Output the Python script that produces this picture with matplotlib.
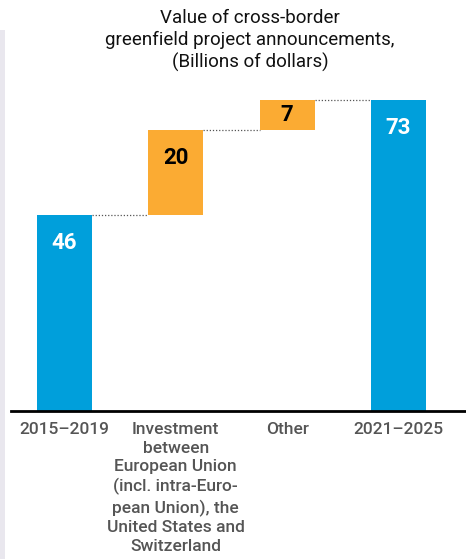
import matplotlib
matplotlib.use("Agg")
import matplotlib.pyplot as plt
from matplotlib.patches import Rectangle

categories = ["2015–2019",
              "Investment\nbetween\nEuropean Union\n(incl. intra-Euro-\npean Union), the\nUnited States and\nSwitzerland",
              "Other",
              "2021–2025"]
values = [46, 20, 7, 73]
kinds = ["total", "delta", "delta", "total"]

BLUE = "#009fdb"
ORANGE = "#fbab33"
FONT = ["Roboto", "Liberation Sans", "DejaVu Sans"]

W, H = 466, 559
fig = plt.figure(figsize=(W / 100, H / 100), dpi=100)

# light side strip along the left edge
fig.patches.append(Rectangle((0, 0), 5 / W, (H - 30) / H, transform=fig.transFigure,
                             facecolor="#e9e7ee", edgecolor="none", zorder=0))

ax = fig.add_axes([11 / W, (H - 411) / H, (W - 11) / W, (411 - 90) / H])
ax.set_xlim(-0.48, 3.606)
ax.set_ylim(0, 75.35)

# waterfall bottoms from running total
bottoms = []
running = 0
for v, k in zip(values, kinds):
    if k == "total":
        bottoms.append(0)
        running = v
    else:
        bottoms.append(running)
        running += v
tops = [b + v for b, v in zip(bottoms, values)]
colors = [BLUE if k == "total" else ORANGE for k in kinds]

x = list(range(len(values)))
width = 0.495
ax.bar(x, values, bottom=bottoms, width=width, color=colors, zorder=2)

# dotted connectors between consecutive bars
for i in range(len(values) - 1):
    ax.plot([x[i] + width / 2, x[i + 1] - width / 2], [tops[i], tops[i]],
            linestyle=(0, (1, 1.5)), color="#555555", linewidth=0.9, zorder=1)

# value labels inside the bars
px_per_unit = (411 - 90) / 75.35
for xi, b, t, v, k in zip(x, bottoms, tops, values, kinds):
    off = min(28 / px_per_unit, (t - b) / 2)
    ax.text(xi, t - off, f"{v}", ha="center", va="center", fontsize=16,
            fontweight="bold", family=FONT,
            color="white" if k == "total" else "black", zorder=3)

for s in ["top", "right", "left"]:
    ax.spines[s].set_visible(False)
ax.spines["bottom"].set_linewidth(2)
ax.spines["bottom"].set_color("black")
ax.set_yticks([])
ax.set_xticks(x)
ax.set_xticklabels(categories, family=FONT, fontsize=12.5, color="#555555",
                   fontweight="medium", linespacing=1.3)
ax.tick_params(axis="x", length=0, pad=8)

fig.text(250 / W, 1 - 9 / H,
         "Value of cross-border\ngreenfield project announcements,\n(Billions of dollars)",
         ha="center", va="top", fontsize=13.5, family=FONT, color="#111111",
         linespacing=1.28)

fig.savefig("out.png", dpi=100)
